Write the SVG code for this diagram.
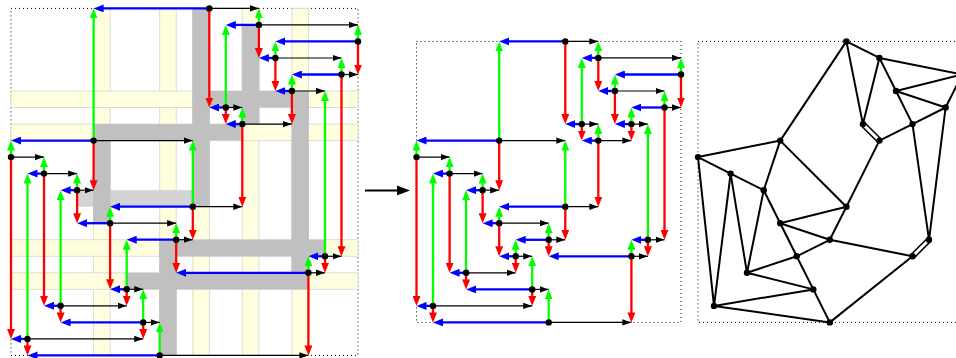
<svg xmlns="http://www.w3.org/2000/svg" width="956" height="358" viewBox="0 0 956 358">
<defs>
<marker id="hb" markerUnits="userSpaceOnUse" markerWidth="11" markerHeight="8" refX="6" refY="4" orient="auto"><path d="M0 0L10 4L0 8z" fill="#0000ff"/></marker>
<marker id="hg" markerUnits="userSpaceOnUse" markerWidth="11" markerHeight="8" refX="6" refY="4" orient="auto"><path d="M0 0L10 4L0 8z" fill="#00ff00"/></marker>
<marker id="hr" markerUnits="userSpaceOnUse" markerWidth="11" markerHeight="8" refX="6" refY="4" orient="auto"><path d="M0 0L10 4L0 8z" fill="#ff0000"/></marker>
<marker id="hk" markerUnits="userSpaceOnUse" markerWidth="10" markerHeight="8" refX="9" refY="4" orient="auto"><path d="M0 0.8L9 4L0 7.2z" fill="#000"/></marker>
<marker id="hbig" markerUnits="userSpaceOnUse" markerWidth="14" markerHeight="10" refX="9" refY="5" orient="auto"><path d="M0 0L13 5L0 10z" fill="#000"/></marker>
</defs>
<style>
.box{fill:none;stroke:#000;stroke-width:1;stroke-dasharray:1 3}
.y{fill:#ffffe0;stroke:#dcdcd4;stroke-width:1}
.d{fill:#c0c0c0}
.l{fill:#d3d3d3}
.b,.g,.r,.k,.e,.e2{fill:none}
.b{stroke:#0000ff;stroke-width:2.3;marker-end:url(#hb)}
.g{stroke:#00ff00;stroke-width:2.3;marker-end:url(#hg)}
.r{stroke:#ff0000;stroke-width:2.3;marker-end:url(#hr)}
.k{stroke:#000;stroke-width:1.2;marker-end:url(#hk)}
.e{stroke:#000;stroke-width:2}
.e2{stroke:#000;stroke-width:1.6}
circle{fill:#000;r:3.2px}
</style>
<g transform="translate(0 0.4)">
<rect class="box" x="11" y="8" width="347" height="347"/>
<rect class="box" x="416.5" y="41" width="264.5" height="281"/>
<rect class="box" x="698" y="41" width="264.5" height="281"/>
<g id="strips">
<rect class="y" x="93.6" y="8" width="16.5" height="347"/>
<rect class="y" x="159.7" y="8" width="16.5" height="347"/>
<rect class="y" x="192.8" y="8" width="16.5" height="347"/>
<rect class="y" x="242.3" y="8" width="16.6" height="347"/>
<rect class="y" x="291.9" y="8" width="16.5" height="347"/>
<rect class="y" x="11" y="90.6" width="347" height="16.5"/>
<rect class="y" x="11" y="123.7" width="347" height="16.5"/>
<rect class="y" x="11" y="239.3" width="347" height="16.6"/>
<rect class="y" x="11" y="272.4" width="347" height="16.5"/>
<rect class="l" x="77.1" y="189.8" width="115.7" height="16.5"/>
<rect class="d" x="93.1" y="123.7" width="149.7" height="16.5"/>
<rect class="d" x="93.1" y="123.7" width="17.5" height="99.1"/>
<rect class="d" x="192.3" y="8" width="17.5" height="198.3"/>
<rect class="d" x="192.3" y="90.6" width="116.6" height="16.5"/>
<rect class="d" x="241.8" y="24.5" width="17.6" height="99.2"/>
<rect class="d" x="291.4" y="90.6" width="17.5" height="198.3"/>
<rect class="d" x="159.2" y="239.3" width="166.3" height="16.6"/>
<rect class="d" x="126.2" y="272.4" width="182.7" height="16.5"/>
<rect class="d" x="159.2" y="239.3" width="17.5" height="115.7"/>
</g>
<g id="connectors-left">
<path class="k" d="M209.3 8H258.9"/><path class="k" d="M258.9 24.5H358"/><path class="k" d="M275.4 57.6H341.5"/><path class="k" d="M341.5 74.1H358"/><path class="k" d="M291.9 90.6H325"/><path class="k" d="M225.8 107.1H242.3"/><path class="k" d="M242.3 123.7H291.9"/><path class="k" d="M93.6 140.2H192.8"/><path class="k" d="M11 156.7H44"/><path class="k" d="M44 173.2H77.1"/><path class="k" d="M77.1 189.8H93.6"/><path class="k" d="M192.8 206.3H242.3"/><path class="k" d="M110.1 222.8H176.2"/><path class="k" d="M176.2 239.3H192.8"/><path class="k" d="M325 255.9H341.5"/><path class="k" d="M308.4 272.4H325"/><path class="k" d="M126.7 288.9H143.2"/><path class="k" d="M60.6 305.4H126.7"/><path class="k" d="M143.2 322H159.7"/><path class="k" d="M27.5 338.5H143.2"/><path class="k" d="M159.7 355H308.4"/>
<path class="b" d="M209.3 8H97.6"/><path class="b" d="M258.9 24.5H229.8"/><path class="b" d="M358 41H279.4"/><path class="b" d="M275.4 57.6H262.9"/><path class="b" d="M341.5 74.1H295.9"/><path class="b" d="M291.9 90.6H279.4"/><path class="b" d="M225.8 107.1H213.3"/><path class="b" d="M242.3 123.7H229.8"/><path class="b" d="M93.6 140.2H15"/><path class="b" d="M44 173.2H31.5"/><path class="b" d="M77.1 189.8H64.6"/><path class="b" d="M192.8 206.3H114.1"/><path class="b" d="M110.1 222.8H81.1"/><path class="b" d="M176.2 239.3H130.7"/><path class="b" d="M325 255.9H312.4"/><path class="b" d="M308.4 272.4H180.2"/><path class="b" d="M126.7 288.9H114.1"/><path class="b" d="M60.6 305.4H48"/><path class="b" d="M143.2 322H64.6"/><path class="b" d="M27.5 338.5H15"/><path class="b" d="M159.7 355H31.5"/>
<path class="g" d="M258.9 24.5V12"/><path class="g" d="M358 41V28.5"/><path class="g" d="M275.4 57.6V45"/><path class="g" d="M341.5 74.1V61.6"/><path class="g" d="M291.9 90.6V78.1"/><path class="g" d="M225.8 107.1V28.5"/><path class="g" d="M242.3 123.7V111.1"/><path class="g" d="M93.6 140.2V12"/><path class="g" d="M11 156.7V144.2"/><path class="g" d="M44 173.2V160.7"/><path class="g" d="M77.1 189.8V177.2"/><path class="g" d="M192.8 206.3V144.2"/><path class="g" d="M110.1 222.8V210.3"/><path class="g" d="M176.2 239.3V226.8"/><path class="g" d="M325 255.9V94.6"/><path class="g" d="M308.4 272.4V259.9"/><path class="g" d="M126.7 288.9V243.3"/><path class="g" d="M60.6 305.4V193.8"/><path class="g" d="M143.2 322V292.9"/><path class="g" d="M27.5 338.5V177.2"/><path class="g" d="M159.7 355V326"/>
<path class="r" d="M209.3 8V103.1"/><path class="r" d="M258.9 24.5V53.6"/><path class="r" d="M358 41V70.1"/><path class="r" d="M275.4 57.6V86.6"/><path class="r" d="M341.5 74.1V251.9"/><path class="r" d="M291.9 90.6V119.7"/><path class="r" d="M225.8 107.1V119.7"/><path class="r" d="M242.3 123.7V202.3"/><path class="r" d="M93.6 140.2V185.8"/><path class="r" d="M11 156.7V334.5"/><path class="r" d="M44 173.2V301.4"/><path class="r" d="M77.1 189.8V218.8"/><path class="r" d="M192.8 206.3V235.3"/><path class="r" d="M110.1 222.8V284.9"/><path class="r" d="M176.2 239.3V268.4"/><path class="r" d="M325 255.9V268.4"/><path class="r" d="M308.4 272.4V351"/><path class="r" d="M126.7 288.9V301.4"/><path class="r" d="M60.6 305.4V318"/><path class="r" d="M143.2 322V334.5"/><path class="r" d="M27.5 338.5V351"/>
</g>
<g id="connectors-middle">
<path class="k" d="M565.3 41H598.3"/><path class="k" d="M598.3 57.5H681"/><path class="k" d="M614.9 90.6H664.5"/><path class="k" d="M664.5 107.1H681"/><path class="k" d="M581.8 123.7H598.3"/><path class="k" d="M631.4 123.7H647.9"/><path class="k" d="M598.3 140.2H631.4"/><path class="k" d="M499.2 140.2H565.3"/><path class="k" d="M416.5 156.7H449.6"/><path class="k" d="M449.6 173.2H482.6"/><path class="k" d="M482.6 189.8H499.2"/><path class="k" d="M565.3 206.3H598.3"/><path class="k" d="M499.2 222.8H548.7"/><path class="k" d="M548.7 239.4H565.3"/><path class="k" d="M647.9 239.4H664.5"/><path class="k" d="M515.7 255.9H532.2"/><path class="k" d="M631.4 255.9H647.9"/><path class="k" d="M466.1 272.4H515.7"/><path class="k" d="M532.2 289H548.7"/><path class="k" d="M433 305.5H532.2"/><path class="k" d="M548.7 322H631.4"/>
<path class="b" d="M565.3 41H503.2"/><path class="b" d="M598.3 57.5H585.8"/><path class="b" d="M681 74.1H618.9"/><path class="b" d="M614.9 90.6H602.3"/><path class="b" d="M664.5 107.1H635.4"/><path class="b" d="M581.8 123.7H569.3"/><path class="b" d="M631.4 123.7H618.9"/><path class="b" d="M598.3 140.2H585.8"/><path class="b" d="M499.2 140.2H420.5"/><path class="b" d="M449.6 173.2H437"/><path class="b" d="M482.6 189.8H470.1"/><path class="b" d="M565.3 206.3H503.2"/><path class="b" d="M499.2 222.8H486.6"/><path class="b" d="M548.7 239.4H519.7"/><path class="b" d="M647.9 239.4H635.4"/><path class="b" d="M515.7 255.9H503.2"/><path class="b" d="M631.4 255.9H552.7"/><path class="b" d="M466.1 272.4H453.6"/><path class="b" d="M532.2 289H470.1"/><path class="b" d="M433 305.5H420.5"/><path class="b" d="M548.7 322H437"/>
<path class="g" d="M598.3 57.5V45"/><path class="g" d="M681 74.1V61.5"/><path class="g" d="M614.9 90.6V78.1"/><path class="g" d="M664.5 107.1V94.6"/><path class="g" d="M581.8 123.7V61.5"/><path class="g" d="M631.4 123.7V111.1"/><path class="g" d="M598.3 140.2V127.7"/><path class="g" d="M499.2 140.2V45"/><path class="g" d="M416.5 156.7V144.2"/><path class="g" d="M449.6 173.2V160.7"/><path class="g" d="M482.6 189.8V177.2"/><path class="g" d="M565.3 206.3V144.2"/><path class="g" d="M499.2 222.8V210.3"/><path class="g" d="M548.7 239.4V226.8"/><path class="g" d="M647.9 239.4V127.7"/><path class="g" d="M515.7 255.9V243.4"/><path class="g" d="M631.4 255.9V243.4"/><path class="g" d="M466.1 272.4V193.8"/><path class="g" d="M532.2 289V259.9"/><path class="g" d="M433 305.5V177.2"/><path class="g" d="M548.7 322V293"/>
<path class="r" d="M565.3 41V119.7"/><path class="r" d="M598.3 57.5V86.6"/><path class="r" d="M681 74.1V103.1"/><path class="r" d="M614.9 90.6V119.7"/><path class="r" d="M664.5 107.1V235.4"/><path class="r" d="M581.8 123.7V136.2"/><path class="r" d="M631.4 123.7V136.2"/><path class="r" d="M598.3 140.2V202.3"/><path class="r" d="M499.2 140.2V185.8"/><path class="r" d="M416.5 156.7V301.5"/><path class="r" d="M449.6 173.2V268.4"/><path class="r" d="M482.6 189.8V218.8"/><path class="r" d="M565.3 206.3V235.4"/><path class="r" d="M499.2 222.8V251.9"/><path class="r" d="M548.7 239.4V251.9"/><path class="r" d="M647.9 239.4V251.9"/><path class="r" d="M515.7 255.9V268.4"/><path class="r" d="M631.4 255.9V318"/><path class="r" d="M466.1 272.4V285"/><path class="r" d="M532.2 289V301.5"/><path class="r" d="M433 305.5V318"/>
</g>
<g id="connector-transform">
<path d="M365 190H406" fill="none" stroke="#000" stroke-width="2" marker-end="url(#hbig)"/>
</g>
<g id="connectors-right">
<path class="e" d="M846.4 41L879.4 57.5"/><path class="e" d="M846.4 41L862.9 123.7"/><path class="e" d="M846.4 41L780.2 140.2"/>
<path class="e" d="M879.4 57.5L962.1 74.1"/><path class="e" d="M879.4 57.5L862.9 123.7"/><path class="e" d="M879.4 57.5L896 90.6"/>
<path class="e" d="M962.1 74.1L896 90.6"/><path class="e" d="M962.1 74.1L945.6 107.1"/>
<path class="e" d="M896 90.6L945.6 107.1"/><path class="e" d="M896 90.6L912.5 123.7"/>
<path class="e" d="M945.6 107.1L912.5 123.7"/><path class="e" d="M945.6 107.1L929 239.4"/>
<path class="e" d="M912.5 123.7L879.4 140.2"/><path class="e" d="M912.5 123.7L929 239.4"/>
<path class="e2" d="M864.5 122.1L881 138.6"/><path class="e2" d="M861.3 125.3L877.8 141.8"/>
<path class="e" d="M879.4 140.2L846.4 206.3"/><path class="e" d="M846.4 206.3L829.8 239.4"/>
<path class="e" d="M780.2 140.2L698 156.7"/><path class="e" d="M780.2 140.2L763.7 189.8"/><path class="e" d="M780.2 140.2L846.4 206.3"/>
<path class="e" d="M698 156.7L730.6 173.2"/><path class="e" d="M698 156.7L714 305.5"/>
<path class="e" d="M730.6 173.2L763.7 189.8"/><path class="e" d="M730.6 173.2L714 305.5"/><path class="e" d="M730.6 173.2L747 272.4"/>
<path class="e" d="M763.7 189.8L747 272.4"/><path class="e" d="M763.7 189.8L780.2 222.8"/>
<path class="e" d="M780.2 222.8L846.4 206.3"/><path class="e" d="M780.2 222.8L829.8 239.4"/><path class="e" d="M780.2 222.8L796.7 255.9"/>
<path class="e" d="M829.8 239.4L796.7 255.9"/><path class="e" d="M829.8 239.4L912.5 255.9"/>
<path class="e" d="M796.7 255.9L747 272.4"/><path class="e" d="M796.7 255.9L813.3 289"/>
<path class="e" d="M747 272.4L813.3 289"/><path class="e" d="M813.3 289L714 305.5"/><path class="e" d="M813.3 289L829.8 322"/>
<path class="e" d="M714 305.5L829.8 322"/><path class="e" d="M829.8 322L912.5 255.9"/>
<path class="e2" d="M914.1 257.5L930.6 241"/><path class="e2" d="M910.9 254.3L927.4 237.8"/>
</g>
<g id="left-nodes">
<g id="l1"><circle cx="209.3" cy="8" r="3"/></g><g id="l2"><circle cx="258.9" cy="24.5" r="3"/></g><g id="l3"><circle cx="358" cy="41" r="3"/></g><g id="l4"><circle cx="275.4" cy="57.6" r="3"/></g><g id="l5"><circle cx="341.5" cy="74.1" r="3"/></g><g id="l6"><circle cx="291.9" cy="90.6" r="3"/></g><g id="l7"><circle cx="225.8" cy="107.1" r="3"/></g><g id="l8"><circle cx="242.3" cy="123.7" r="3"/></g><g id="l9"><circle cx="93.6" cy="140.2" r="3"/></g><g id="l10"><circle cx="11" cy="156.7" r="3"/></g><g id="l11"><circle cx="44" cy="173.2" r="3"/></g><g id="l12"><circle cx="77.1" cy="189.8" r="3"/></g><g id="l13"><circle cx="192.8" cy="206.3" r="3"/></g><g id="l14"><circle cx="110.1" cy="222.8" r="3"/></g><g id="l15"><circle cx="176.2" cy="239.3" r="3"/></g><g id="l16"><circle cx="325" cy="255.9" r="3"/></g><g id="l17"><circle cx="308.4" cy="272.4" r="3"/></g><g id="l18"><circle cx="126.7" cy="288.9" r="3"/></g><g id="l19"><circle cx="60.6" cy="305.4" r="3"/></g><g id="l20"><circle cx="143.2" cy="322" r="3"/></g><g id="l21"><circle cx="27.5" cy="338.5" r="3"/></g><g id="l22"><circle cx="159.7" cy="355" r="3"/></g>
</g>
<g id="middle-nodes">
<g id="m1"><circle cx="565.3" cy="41" r="3"/></g><g id="m2"><circle cx="598.3" cy="57.5" r="3"/></g><g id="m3"><circle cx="681" cy="74.1" r="3"/></g><g id="m4"><circle cx="614.9" cy="90.6" r="3"/></g><g id="m5"><circle cx="664.5" cy="107.1" r="3"/></g><g id="m6"><circle cx="581.8" cy="123.7" r="3"/></g><g id="m7"><circle cx="631.4" cy="123.7" r="3"/></g><g id="m8"><circle cx="598.3" cy="140.2" r="3"/></g><g id="m9"><circle cx="499.2" cy="140.2" r="3"/></g><g id="m10"><circle cx="416.5" cy="156.7" r="3"/></g><g id="m11"><circle cx="449.6" cy="173.2" r="3"/></g><g id="m12"><circle cx="482.6" cy="189.8" r="3"/></g><g id="m13"><circle cx="565.3" cy="206.3" r="3"/></g><g id="m14"><circle cx="499.2" cy="222.8" r="3"/></g><g id="m15"><circle cx="548.7" cy="239.4" r="3"/></g><g id="m16"><circle cx="647.9" cy="239.4" r="3"/></g><g id="m17"><circle cx="515.7" cy="255.9" r="3"/></g><g id="m18"><circle cx="631.4" cy="255.9" r="3"/></g><g id="m19"><circle cx="466.1" cy="272.4" r="3"/></g><g id="m20"><circle cx="532.2" cy="289" r="3"/></g><g id="m21"><circle cx="433" cy="305.5" r="3"/></g><g id="m22"><circle cx="548.7" cy="322" r="3"/></g>
</g>
<g id="right-nodes">
<g id="r1"><circle cx="846.4" cy="41" r="3"/></g><g id="r2"><circle cx="879.4" cy="57.5" r="3"/></g><g id="r3"><circle cx="962.1" cy="74.1" r="3"/></g><g id="r4"><circle cx="896" cy="90.6" r="3"/></g><g id="r5"><circle cx="945.6" cy="107.1" r="3"/></g><g id="r6"><circle cx="862.9" cy="123.7" r="3"/></g><g id="r7"><circle cx="912.5" cy="123.7" r="3"/></g><g id="r8"><circle cx="879.4" cy="140.2" r="3"/></g><g id="r9"><circle cx="780.2" cy="140.2" r="3"/></g><g id="r10"><circle cx="698" cy="156.7" r="3"/></g><g id="r11"><circle cx="730.6" cy="173.2" r="3"/></g><g id="r12"><circle cx="763.7" cy="189.8" r="3"/></g><g id="r13"><circle cx="846.4" cy="206.3" r="3"/></g><g id="r14"><circle cx="780.2" cy="222.8" r="3"/></g><g id="r15"><circle cx="829.8" cy="239.4" r="3"/></g><g id="r16"><circle cx="929" cy="239.4" r="3"/></g><g id="r17"><circle cx="796.7" cy="255.9" r="3"/></g><g id="r18"><circle cx="912.5" cy="255.9" r="3"/></g><g id="r19"><circle cx="747" cy="272.4" r="3"/></g><g id="r20"><circle cx="813.3" cy="289" r="3"/></g><g id="r21"><circle cx="714" cy="305.5" r="3"/></g><g id="r22"><circle cx="829.8" cy="322" r="3"/></g>
</g>
</g>
</svg>
